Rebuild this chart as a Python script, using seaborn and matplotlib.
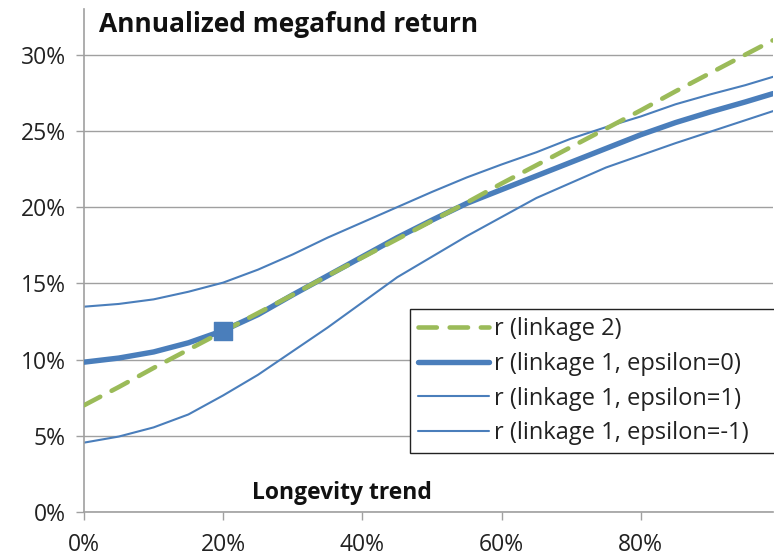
import numpy as np
import pandas as pd
import matplotlib
matplotlib.use("Agg")
import matplotlib.pyplot as plt
import seaborn as sns

# Longevity trend (x) values
trend = [0.00, 0.05, 0.10, 0.15, 0.20, 0.25, 0.30, 0.35, 0.40, 0.45, 0.50,
         0.55, 0.60, 0.65, 0.70, 0.75, 0.80, 0.85, 0.90, 0.95, 0.99]

# Annualized megafund return (%) per series
r_linkage2 = [7.0, 8.2, 9.45, 10.65, 11.85, 13.05, 14.25, 15.5, 16.7, 17.9, 19.1,
              20.3, 21.55, 22.75, 23.95, 25.15, 26.35, 27.6, 28.8, 30.0, 30.95]
r_eps0 = [9.83, 10.1, 10.5, 11.1, 11.9, 12.95, 14.25, 15.5, 16.75, 18.0, 19.15,
          20.25, 21.15, 22.05, 22.95, 23.85, 24.75, 25.55, 26.25, 26.9, 27.45]
r_eps1 = [13.47, 13.65, 13.95, 14.45, 15.05, 15.9, 16.9, 18.0, 19.0, 20.0, 21.0,
          21.95, 22.8, 23.6, 24.5, 25.25, 25.95, 26.75, 27.4, 28.0, 28.55]
r_epsm1 = [4.55, 4.95, 5.55, 6.4, 7.65, 9.0, 10.55, 12.1, 13.75, 15.4, 16.75,
           18.1, 19.35, 20.6, 21.6, 22.6, 23.4, 24.2, 24.95, 25.7, 26.3]

labels = ["r (linkage 2)", "r (linkage 1, epsilon=0)",
          "r (linkage 1, epsilon=1)", "r (linkage 1, epsilon=-1)"]

# highlighted point
marker_x = [0.20]
marker_y = [11.9]

x_ticks = [0.0, 0.2, 0.4, 0.6, 0.8]
y_ticks = [0.0, 0.05, 0.10, 0.15, 0.20, 0.25, 0.30]

sns.set_theme(style="white")
plt.rcParams['font.family'] = ['Open Sans', 'DejaVu Sans']

BLUE = "#4A7EBB"
GREEN = "#9BBB59"
GRID = "#A0A0A0"

fig = plt.figure(figsize=(7.74, 5.59), dpi=100)
ax = fig.add_axes([84 / 774, 47 / 559, 689 / 774, 503 / 559])

x = np.array(trend)
series = [
    (np.array(r_linkage2) / 100, GREEN, 3.3, (0, (4.0, 2.8)), labels[0], 4),
    (np.array(r_eps0) / 100, BLUE, 3.9, "-", labels[1], 3),
    (np.array(r_eps1) / 100, BLUE, 1.5, "-", labels[2], 2),
    (np.array(r_epsm1) / 100, BLUE, 1.5, "-", labels[3], 2),
]
for y, c, lw, ls, lab, z in series:
    sns.lineplot(x=x, y=y, ax=ax, color=c, linewidth=lw, linestyle=ls,
                 label=lab, zorder=z, sort=False, estimator=None)
for l in ax.get_lines():
    l.set_dash_capstyle("round")
    l.set_solid_capstyle("round")

sns.scatterplot(x=marker_x, y=np.array(marker_y) / 100, ax=ax, marker="s",
                s=160, color=BLUE, edgecolor=BLUE, zorder=5, legend=False)

ax.set_xlim(0, 0.99)
ax.set_ylim(0, 0.33)
ax.set_xticks(x_ticks)
ax.set_yticks(y_ticks)
ax.set_xticklabels([f"{int(round(t*100))}%" for t in x_ticks])
ax.set_yticklabels([f"{int(round(t*100))}%" for t in y_ticks])
ax.set_xlabel("")
ax.set_ylabel("")

ax.yaxis.grid(True, color=GRID, linewidth=1.0)
ax.xaxis.grid(False)
ax.set_axisbelow(True)
for s in ["top", "right"]:
    ax.spines[s].set_visible(False)
for s in ["left", "bottom"]:
    ax.spines[s].set_color(GRID)
    ax.spines[s].set_linewidth(1.2)

ax.tick_params(axis="both", which="both", length=6, width=1.0, color=GRID,
               labelsize=16.5, labelcolor="#222222", direction="out")
ax.tick_params(axis="x", pad=9, bottom=True)
ax.tick_params(axis="y", pad=7, left=True)

ax.text(15 / 689, 1 - 2 / 503, "Annualized megafund return", transform=ax.transAxes,
        fontsize=19, fontweight="bold", ha="left", va="top", color="#111111")
ax.text(258 / 689, 19 / 503, "Longevity trend", transform=ax.transAxes,
        fontsize=16.5, fontweight="bold", ha="center", va="center", color="#111111")

leg = ax.legend(loc="upper left", bbox_to_anchor=(326 / 689, 1 - 300 / 503, 0.7, 0.0),
                mode="expand",
                frameon=True, fancybox=False, fontsize=17, handlelength=3.0,
                handletextpad=0.2, borderpad=0.35, labelspacing=0.45,
                borderaxespad=0)
leg.get_frame().set_edgecolor("#222222")
leg.get_frame().set_linewidth(1.0)
leg.get_frame().set_facecolor("white")
leg.get_frame().set_alpha(1.0)
for t in leg.get_texts():
    t.set_color("#222222")

fig.savefig("out.png", dpi=100)
